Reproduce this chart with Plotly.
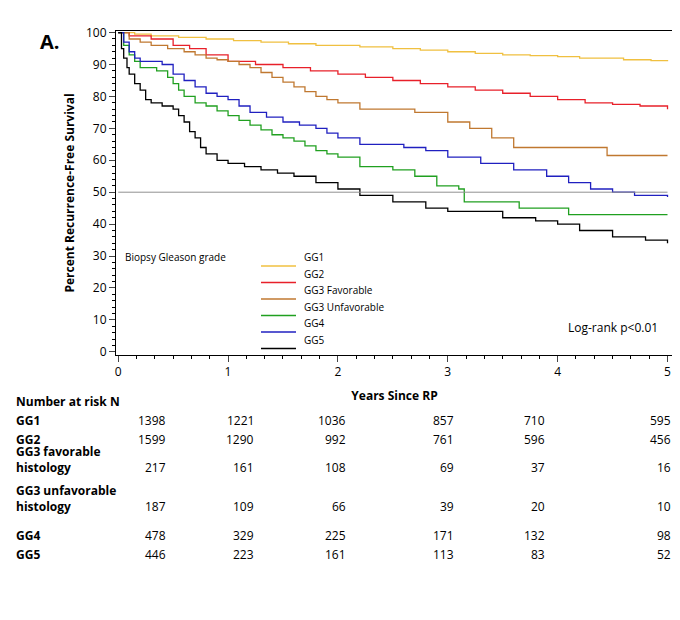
import plotly.graph_objects as go

# Kaplan-Meier curves (years, percent)
gg1_t = [0, 0.15, 0.3, 0.55, 0.8, 1.05, 1.3, 1.55, 1.8, 2.2, 2.5, 2.75, 3.0, 3.25, 3.5, 3.75, 4.0, 4.2, 4.6, 4.85, 5]
gg1_s = [100, 99.5, 99, 98.5, 98, 97.5, 97, 96.5, 96, 95.5, 95, 94.5, 94, 93.5, 93, 92.8, 92.5, 92, 91.5, 91.2, 91]
gg2_t = [0, 0.1, 0.3, 0.5, 0.65, 0.8, 1.0, 1.25, 1.5, 1.75, 2.0, 2.25, 2.5, 2.75, 3.0, 3.25, 3.5, 3.75, 4.0, 4.25, 4.5, 4.75, 5]
gg2_s = [100, 99, 98, 96, 95, 93, 91, 90, 89, 88, 87, 86, 85, 84, 83, 82, 81, 80, 79, 78, 77.5, 77, 76]
gg3f_t = [0, 0.1, 0.2, 0.3, 0.45, 0.6, 0.7, 0.8, 0.9, 1.0, 1.1, 1.2, 1.3, 1.4, 1.5, 1.6, 1.7, 1.8, 1.9, 2.0, 2.2, 2.7, 3.0, 3.2, 3.4, 3.6, 4.45, 5]
gg3f_s = [100, 98, 97, 96, 95, 94, 93, 92, 91.5, 91, 90, 89, 87.5, 86, 84.5, 83, 81.5, 80, 79, 78, 76, 75, 72, 70, 67, 64, 61.5, 61.5]
gg3u_t = [0, 0.05, 0.1, 0.15, 0.2, 0.35, 0.45, 0.5, 0.55, 0.6, 0.7, 0.8, 0.9, 1.0, 1.1, 1.2, 1.3, 1.4, 1.5, 1.6, 1.7, 1.8, 1.9, 2.0, 2.2, 2.5, 2.7, 2.9, 3.1, 3.15, 3.65, 4.1, 5]
gg3u_s = [100, 96, 93, 91, 89, 88, 86, 84, 82, 80, 78, 77, 75.5, 74, 72.5, 71, 69.5, 68, 67, 66, 64.5, 63, 62, 61, 58, 57, 55, 52, 51, 47, 45, 43, 43]
gg4_t = [0, 0.05, 0.1, 0.15, 0.2, 0.4, 0.5, 0.6, 0.7, 0.8, 0.9, 1.0, 1.1, 1.2, 1.35, 1.5, 1.65, 1.8, 1.9, 2.0, 2.2, 2.6, 2.8, 3.0, 3.3, 3.6, 3.9, 4.1, 4.3, 4.5, 4.7, 5]
gg4_s = [100, 97, 94, 92, 91, 90, 87, 85, 83, 81, 80, 79, 77, 75, 73.5, 72, 71, 70, 68.5, 67, 65, 64, 63, 61, 59, 57, 55, 53, 51, 50, 49, 48.5]
gg5_t = [0, 0.03, 0.05, 0.08, 0.1, 0.15, 0.2, 0.25, 0.3, 0.4, 0.5, 0.55, 0.6, 0.65, 0.7, 0.75, 0.8, 0.9, 1.0, 1.15, 1.3, 1.45, 1.6, 1.8, 2.0, 2.2, 2.5, 2.8, 3.0, 3.5, 3.8, 4.0, 4.2, 4.5, 4.8, 5]
gg5_s = [100, 95, 92, 89, 87, 84, 82, 79, 78, 77, 76, 74, 72, 69, 67, 64, 62, 60, 59, 58, 57, 56, 55, 53, 51, 49, 47, 45, 44, 42, 41, 40, 38, 36, 35, 34]

names = ["GG1", "GG2", "GG3 Favorable", "GG3 Unfavorable", "GG4", "GG5"]
colors = ["#f0c040", "#e8202a", "#c07830", "#20a020", "#2020c0", "#000000"]
curves = [(gg1_t, gg1_s), (gg2_t, gg2_s), (gg3f_t, gg3f_s),
          (gg3u_t, gg3u_s), (gg4_t, gg4_s), (gg5_t, gg5_s)]

# number at risk table
risk_labels = ["GG1", "GG2", "GG3 favorable<br>histology",
               "GG3 unfavorable<br>histology", "GG4", "GG5"]
risk_rows = [[1398, 1221, 1036, 857, 710, 595],
             [1599, 1290, 992, 761, 596, 456],
             [217, 161, 108, 69, 37, 16],
             [187, 109, 66, 39, 20, 10],
             [478, 329, 225, 171, 132, 98],
             [446, 223, 161, 113, 83, 52]]
risk_row_px = [423, 442, 470, 509, 538, 557]
risk_col_px = [160, 248, 340, 448, 539, 665]

L, R, T, B = 108, 665, 23, 347


def px_x(p):
    return (p - L) / (R - L)


def px_y(p):
    return (B - p) / (B - T)


fig = go.Figure()
for (t, s), n, c in zip(curves, names, colors):
    fig.add_trace(go.Scatter(x=t, y=s, mode="lines", line_shape="hv",
                             name=n, line=dict(color=c, width=1.3),
                             showlegend=False))

fig.add_shape(type="line", x0=0, x1=5, y0=50, y1=50,
              line=dict(color="#909090", width=1))

ann = [dict(text="<b>A.</b>", x=px_x(30), y=px_y(18), xref="paper", yref="paper",
            showarrow=False, font=dict(size=20), xanchor="left")]
ann.append(dict(text="Biopsy Gleason grade", x=px_x(115), y=px_y(258),
                xref="paper", yref="paper", showarrow=False, xanchor="left",
                font=dict(size=10)))
# hand-drawn legend
for i, (n, c) in enumerate(zip(names, colors)):
    py = 258 + 16.5 * i
    fig.add_shape(type="line", xref="paper", yref="paper",
                  x0=px_x(253), x1=px_x(288), y0=px_y(py), y1=px_y(py),
                  line=dict(color=c, width=1.3))
    ann.append(dict(text=n, x=px_x(294), y=px_y(py), xref="paper", yref="paper",
                    showarrow=False, xanchor="left", font=dict(size=10)))
ann.append(dict(text="Log-rank p<0.01", x=px_x(652), y=px_y(330),
                xref="paper", yref="paper", showarrow=False, xanchor="right",
                font=dict(size=12)))
ann.append(dict(text="<b>Number at risk N</b>", x=px_x(6), y=px_y(404),
                xref="paper", yref="paper", showarrow=False, xanchor="left",
                font=dict(size=12)))
for lab, row, py in zip(risk_labels, risk_rows, risk_row_px):
    ann.append(dict(text="<b>" + lab.replace("<br>", "</b><br><b>") + "</b>",
                    x=px_x(6), y=px_y(py), xref="paper", yref="paper",
                    showarrow=False, xanchor="left", align="left",
                    font=dict(size=12)))
    for v, cx in zip(row, risk_col_px):
        ann.append(dict(text=str(v), x=px_x(cx), y=px_y(py), xref="paper",
                        yref="paper", showarrow=False, xanchor="right",
                        font=dict(size=12)))

fig.update_layout(
    width=680, height=620,
    margin=dict(l=L, r=680 - R, t=T, b=620 - B, autoexpand=False),
    plot_bgcolor="white", paper_bgcolor="white",
    font=dict(family="Open Sans, Liberation Sans, sans-serif", color="black"),
    annotations=ann,
    xaxis=dict(range=[-0.02, 5.05], tickvals=[0, 1, 2, 3, 4, 5], automargin=False,
               showline=True, linecolor="black", mirror=True, ticks="outside",
               ticklen=6, showgrid=False, zeroline=False,
               tickfont=dict(size=12),
               minor=dict(dtick=1 / 6, ticks="outside", ticklen=3, tickcolor="black"),
               title=dict(text="<b>Years Since RP</b>", font=dict(size=12), standoff=12)),
    yaxis=dict(range=[-1, 100.5], tickvals=list(range(0, 101, 10)), automargin=False,
               showline=True, linecolor="black", mirror=True, ticks="outside",
               ticklen=6, showgrid=False, zeroline=False,
               tickfont=dict(size=12),
               minor=dict(dtick=2, ticks="outside", ticklen=3, tickcolor="black"),
               title=dict(text="<b>Percent Recurrence-Free Survival</b>",
                          font=dict(size=12), standoff=8)),
)

fig.write_html("out.html")
